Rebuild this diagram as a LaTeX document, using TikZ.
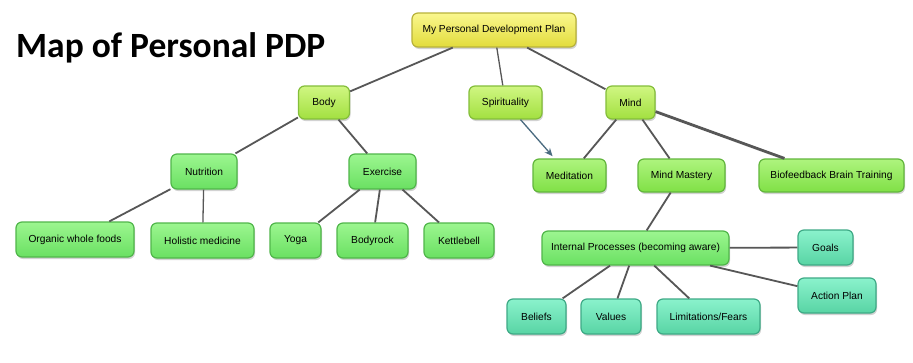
\documentclass[tikz,border=0pt]{standalone}
\usepackage{fontspec}
\setmainfont{Liberation Sans}
\newfontfamily\titlefont{Carlito}
\usetikzlibrary{shadows,arrows.meta}
\definecolor{rootT}{HTML}{FAF78E}
\definecolor{rootB}{HTML}{E2DC3C}
\definecolor{rootD}{HTML}{B8B23A}
\definecolor{limeT}{HTML}{D0F682}
\definecolor{limeB}{HTML}{A2E040}
\definecolor{limeD}{HTML}{84BE3A}
\definecolor{midT}{HTML}{AEF47E}
\definecolor{midB}{HTML}{80E046}
\definecolor{midD}{HTML}{62B63C}
\definecolor{grnT}{HTML}{9CF690}
\definecolor{grnB}{HTML}{6AE062}
\definecolor{grnD}{HTML}{50B64A}
\definecolor{tealT}{HTML}{8AF2CC}
\definecolor{tealB}{HTML}{58D4A4}
\definecolor{tealD}{HTML}{3EAA86}
\definecolor{edgec}{HTML}{575757}
\definecolor{arrowc}{HTML}{4A6B80}
\tikzset{
  box/.style={rounded corners=6pt, line width=1.2pt, font=\fontsize{10.2}{12}\selectfont,
    inner sep=0pt, drop shadow={opacity=0.35, shadow xshift=1pt, shadow yshift=-2pt}},
  rootbox/.style={box, draw=rootD, top color=rootT, bottom color=rootB},
  limebox/.style={box, draw=limeD, top color=limeT, bottom color=limeB},
  midbox/.style={box, draw=midD, top color=midT, bottom color=midB},
  grnbox/.style={box, draw=grnD, top color=grnT, bottom color=grnB},
  tealbox/.style={box, draw=tealD, top color=tealT, bottom color=tealB},
  link/.style={draw=edgec, line width=1.8pt},
  heavylink/.style={draw=edgec, line width=2.8pt},
  thinlink/.style={draw=edgec, line width=1.3pt},
}
\newcommand{\bx}[7]{\node[#1, minimum width=#5pt, minimum height=#6pt] (#2) at (#3,#4) {#7};}
\begin{document}
\begin{tikzpicture}[x=1pt,y=-1pt]
\useasboundingbox[fill=white] (0,0) rectangle (913,362);
% title
\node[anchor=base west, inner sep=0pt, font=\titlefont\bfseries\fontsize{35.5}{40}\selectfont] (title) at (16,57) {Map of Personal PDP};
% nodes
\bx{rootbox}{root}{494}{30}{164}{34}{My Personal Development Plan}
\bx{limebox}{body}{324}{102.5}{51}{33}{Body}
\bx{limebox}{spir}{505.5}{102.5}{73}{33}{Spirituality}
\bx{limebox}{mind}{630.5}{102.5}{49}{33}{Mind}
\bx{grnbox}{nutr}{204}{171.5}{66}{35}{Nutrition}
\bx{grnbox}{exer}{382.5}{171.5}{67}{35}{Exercise}
\bx{midbox}{medi}{569.5}{175.5}{73}{33}{Meditation}
\bx{midbox}{mast}{681.5}{175.5}{87}{33}{Mind Mastery}
\bx{midbox}{bio}{831.5}{175.5}{145}{33}{Biofeedback Brain Training}
\bx{grnbox}{org}{75}{239.5}{118}{35}{Organic whole foods}
\bx{grnbox}{hol}{202.5}{240.5}{103}{35}{Holistic medicine}
\bx{grnbox}{yoga}{295.5}{240.5}{51}{35}{Yoga}
\bx{grnbox}{brock}{372.5}{240.5}{71}{35}{Bodyrock}
\bx{grnbox}{kett}{459}{240.5}{70}{35}{Kettlebell}
\bx{grnbox}{intp}{635.5}{248}{187}{34}{Internal Processes (becoming aware)}
\bx{tealbox}{goals}{825.5}{247.5}{55}{35}{Goals}
\bx{tealbox}{act}{837}{295.5}{78}{35}{Action Plan}
\bx{tealbox}{bel}{536.5}{316.5}{59}{35}{Beliefs}
\bx{tealbox}{val}{611}{316.5}{60}{35}{Values}
\bx{tealbox}{lim}{708.5}{316.5}{103}{35}{Limitations/Fears}
% connectors
\path[link] (root) -- (body);
\path[thinlink] (root) -- (spir);
\path[link] (root) -- (mind);
\path[link] (body) -- (nutr);
\path[link] (body) -- (exer);
\path[link] (nutr) -- (org);
\path[thinlink] (nutr) -- (hol);
\path[link] (exer) -- (yoga);
\path[link] (exer) -- (brock);
\path[link] (exer) -- (kett);
\draw[draw=arrowc, line width=1.3pt, -{Stealth[length=8pt,width=7pt]}, shorten >=3pt] (spir) -- (medi);
\path[link] (mind) -- (medi);
\path[link] (mind) -- (mast);
\path[heavylink] (mind) -- (bio);
\path[link] (mast) -- (intp);
\path[link] (intp) -- (goals);
\path[link] (intp) -- (act);
\path[link] (intp) -- (bel);
\path[link] (intp) -- (val);
\path[link] (intp) -- (lim);
\end{tikzpicture}
\end{document}
